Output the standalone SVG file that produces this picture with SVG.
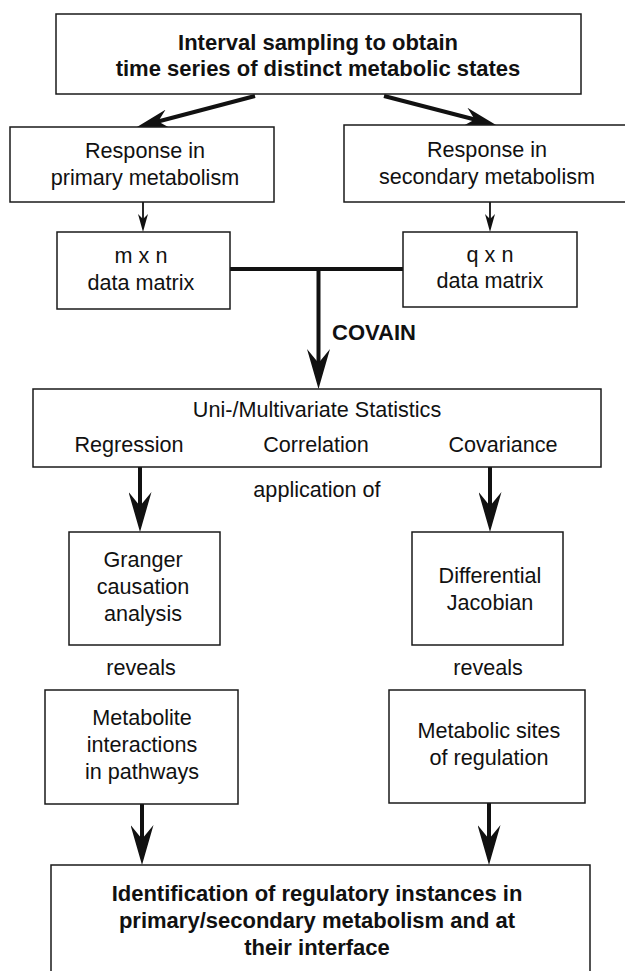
<svg xmlns="http://www.w3.org/2000/svg" width="625" height="971" viewBox="0 0 625 971">
<style>
.box{fill:#fff;stroke:#1a1a1a;stroke-width:1.5}
.t{font-family:"Liberation Sans",Arial,sans-serif;font-size:21.6px;fill:#111;text-anchor:middle}
.b{font-weight:bold;font-size:22px}
.thick{stroke:#111;stroke-width:4;fill:none}
.thin{stroke:#111;stroke-width:1.8;fill:none}
</style>
<defs>
<marker id="big" markerUnits="userSpaceOnUse" viewBox="0 0 40 23" markerWidth="40" markerHeight="23" refX="26" refY="11.5" orient="auto">
<path d="M0,0 L40,11.5 L0,23 L14,11.5 Z" fill="#111"/>
</marker>
<marker id="mid" markerUnits="userSpaceOnUse" viewBox="0 0 32 19" markerWidth="32" markerHeight="19" refX="21" refY="9.5" orient="auto">
<path d="M0,0 L32,9.5 L0,19 L10,9.5 Z" fill="#111"/>
</marker>
<marker id="small" markerUnits="userSpaceOnUse" viewBox="0 0 18 10" markerWidth="18" markerHeight="10" refX="12" refY="5" orient="auto">
<path d="M0,0 L18,5 L0,10 L5,5 Z" fill="#111"/>
</marker>
</defs>

<g id="connectors">
<path class="thick" d="M255,96 L147.6,124.2" marker-end="url(#mid)"/>
<path class="thick" d="M384,96 L485.4,122.2" marker-end="url(#mid)"/>
<path class="thin" d="M143,202 V226" marker-end="url(#small)"/>
<path class="thin" d="M490,202 V226" marker-end="url(#small)"/>
<path class="thick" d="M230,269 H403"/>
<path class="thick" d="M318.5,269 V375" marker-end="url(#big)"/>
<path class="thick" d="M140,467 V518" marker-end="url(#big)"/>
<path class="thick" d="M490,467 V518" marker-end="url(#big)"/>
<path class="thick" d="M142,804 V851" marker-end="url(#big)"/>
<path class="thick" d="M489,803 V851" marker-end="url(#big)"/>
</g>

<g id="top">
<rect class="box" x="56" y="14" width="525" height="80"/>
<text class="t b" x="318" y="50">Interval sampling to obtain</text>
<text class="t b" x="318" y="76">time series of distinct metabolic states</text>
</g>

<g id="primary">
<rect class="box" x="10" y="127" width="264" height="75"/>
<text class="t" x="145" y="158">Response in</text>
<text class="t" x="145" y="185">primary metabolism</text>
</g>

<g id="secondary">
<rect class="box" x="344" y="125" width="290" height="77"/>
<text class="t" x="487" y="157">Response in</text>
<text class="t" x="487" y="184">secondary metabolism</text>
</g>

<g id="mxn">
<rect class="box" x="57" y="232" width="173" height="77"/>
<text class="t" x="141" y="263">m x n</text>
<text class="t" x="141" y="290">data matrix</text>
</g>

<g id="qxn">
<rect class="box" x="403" y="232" width="174" height="75"/>
<text class="t" x="490" y="262">q x n</text>
<text class="t" x="490" y="288">data matrix</text>
</g>

<g id="covain-label">
<text class="t b" x="332" y="340" style="text-anchor:start">COVAIN</text>
</g>

<g id="stats">
<rect class="box" x="33" y="389" width="568" height="78"/>
<text class="t" x="317" y="417">Uni-/Multivariate Statistics</text>
<text class="t" x="129" y="452">Regression</text>
<text class="t" x="316" y="452">Correlation</text>
<text class="t" x="503" y="452">Covariance</text>
</g>

<g id="application-label">
<text class="t" x="317" y="497">application of</text>
</g>

<g id="granger">
<rect class="box" x="69" y="532" width="151" height="113"/>
<text class="t" x="143" y="567">Granger</text>
<text class="t" x="143" y="594">causation</text>
<text class="t" x="143" y="621">analysis</text>
</g>

<g id="jacobian">
<rect class="box" x="412" y="532" width="151" height="113"/>
<text class="t" x="490" y="583">Differential</text>
<text class="t" x="490" y="610">Jacobian</text>
</g>

<g id="reveals-labels">
<text class="t" x="141" y="675">reveals</text>
<text class="t" x="488" y="675">reveals</text>
</g>

<g id="metabolite">
<rect class="box" x="45" y="690" width="193" height="114"/>
<text class="t" x="142" y="725">Metabolite</text>
<text class="t" x="142" y="752">interactions</text>
<text class="t" x="142" y="779">in pathways</text>
</g>

<g id="sites">
<rect class="box" x="389" y="690" width="196" height="113"/>
<text class="t" x="489" y="738">Metabolic sites</text>
<text class="t" x="489" y="765">of regulation</text>
</g>

<g id="identification">
<rect class="box" x="51" y="865" width="539" height="120"/>
<text class="t b" x="317" y="901">Identification of regulatory instances in</text>
<text class="t b" x="317" y="928">primary/secondary metabolism and at</text>
<text class="t b" x="317" y="955">their interface</text>
</g>
</svg>
